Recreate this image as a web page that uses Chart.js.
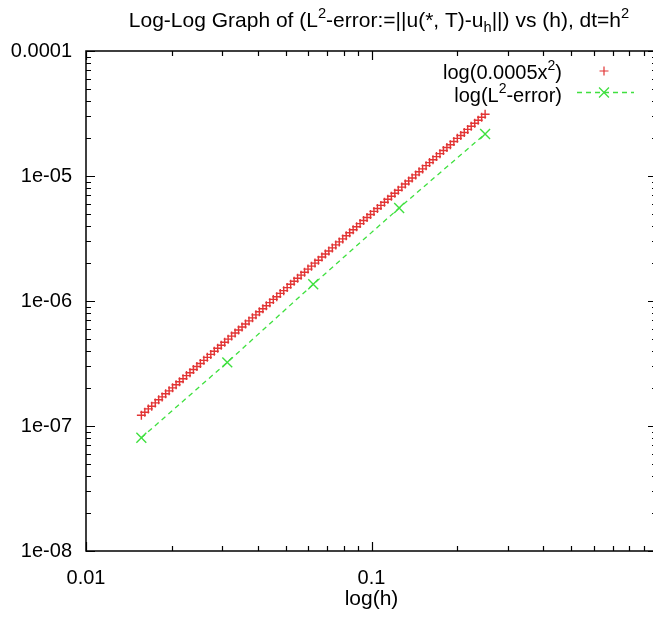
<!DOCTYPE html>
<html lang="en">
<head>
<meta charset="UTF-8">
<title>Log-Log Graph of L2-error vs h</title>
<style>
    html, body {
        margin: 0;
        padding: 0;
        background: #fff;
        overflow: hidden;
    }
    .frame {
        width: 653px;
        height: 617px;
        overflow: hidden;
        position: relative;
    }
    canvas {
        display: block;
    }
</style>
<script src="https://cdn.jsdelivr.net/npm/chart.js@4"></script>
</head>
<body>
<div class="frame">
    <canvas id="chart" width="680" height="617"></canvas>
</div>
<script>
    // mesh sizes sampled for the reference curve 0.0005 h^2
    const hFine = [
        0.01563, 0.01607, 0.01653, 0.01699, 0.01748, 0.01797, 0.01848, 0.01901, 0.01955, 0.02010,
        0.02068, 0.02126, 0.02187, 0.02249, 0.02313, 0.02378, 0.02446, 0.02515, 0.02587, 0.02660,
        0.02736, 0.02814, 0.02893, 0.02976, 0.03060, 0.03147, 0.03236, 0.03328, 0.03423, 0.03520,
        0.03620, 0.03723, 0.03829, 0.03937, 0.04049, 0.04164, 0.04282, 0.04404, 0.04529, 0.04658,
        0.04790, 0.04926, 0.05066, 0.05210, 0.05358, 0.05510, 0.05667, 0.05828, 0.05993, 0.06163,
        0.06338, 0.06518, 0.06703, 0.06894, 0.07089, 0.07291, 0.07498, 0.07711, 0.07930, 0.08155,
        0.08387, 0.08625, 0.08870, 0.09122, 0.09381, 0.09647, 0.09921, 0.1020, 0.1049, 0.1079,
        0.1110, 0.1141, 0.1174, 0.1207, 0.1241, 0.1277, 0.1313, 0.1350, 0.1388, 0.1428,
        0.1468, 0.1510, 0.1553, 0.1597, 0.1642, 0.1689, 0.1737, 0.1786, 0.1837, 0.1889,
        0.1943, 0.1998, 0.2055, 0.2113, 0.2173, 0.2235, 0.2299, 0.2364, 0.2431, 0.2500
    ];
    const fitValues = [
        1.22e-7, 1.29e-7, 1.37e-7, 1.44e-7, 1.53e-7, 1.62e-7, 1.71e-7, 1.81e-7, 1.91e-7, 2.02e-7,
        2.14e-7, 2.26e-7, 2.39e-7, 2.53e-7, 2.67e-7, 2.83e-7, 2.99e-7, 3.16e-7, 3.35e-7, 3.54e-7,
        3.74e-7, 3.96e-7, 4.19e-7, 4.43e-7, 4.68e-7, 4.95e-7, 5.24e-7, 5.54e-7, 5.86e-7, 6.20e-7,
        6.55e-7, 6.93e-7, 7.33e-7, 7.75e-7, 8.20e-7, 8.67e-7, 9.17e-7, 9.70e-7, 1.03e-6, 1.08e-6,
        1.15e-6, 1.21e-6, 1.28e-6, 1.36e-6, 1.44e-6, 1.52e-6, 1.61e-6, 1.70e-6, 1.80e-6, 1.90e-6,
        2.01e-6, 2.12e-6, 2.25e-6, 2.38e-6, 2.51e-6, 2.66e-6, 2.81e-6, 2.97e-6, 3.14e-6, 3.33e-6,
        3.52e-6, 3.72e-6, 3.93e-6, 4.16e-6, 4.40e-6, 4.65e-6, 4.92e-6, 5.21e-6, 5.50e-6, 5.82e-6,
        6.16e-6, 6.51e-6, 6.89e-6, 7.28e-6, 7.70e-6, 8.15e-6, 8.62e-6, 9.11e-6, 9.64e-6, 1.02e-5,
        1.08e-5, 1.14e-5, 1.21e-5, 1.28e-5, 1.35e-5, 1.43e-5, 1.51e-5, 1.60e-5, 1.69e-5, 1.78e-5,
        1.89e-5, 2.00e-5, 2.11e-5, 2.23e-5, 2.36e-5, 2.50e-5, 2.64e-5, 2.79e-5, 2.95e-5, 3.12e-5
    ];

    // computed runs
    const hSteps = [0.015625, 0.03125, 0.0625, 0.125, 0.25];
    const errValues = [8.05e-8, 3.23e-7, 1.36e-6, 5.55e-6, 2.17e-5];

    const xTickVals = [0.01, 0.1];
    const xTickLabels = ['0.01', '0.1'];
    const yTickVals = [1e-8, 1e-7, 1e-6, 1e-5, 1e-4];
    const yTickLabels = ['1e-08', '1e-07', '1e-06', '1e-05', '0.0001'];

    const titleParts = [
        {t: 'Log-Log Graph of (L'}, {t: '2', s: 'sup'}, {t: '-error:=||u(*, T)-u'},
        {t: 'h', s: 'sub'}, {t: '||) vs (h), dt=h'}, {t: '2', s: 'sup'}
    ];
    const fitLabel = [{t: 'log(0.0005x'}, {t: '2', s: 'sup'}, {t: ')'}];
    const errLabel = [{t: 'log(L'}, {t: '2', s: 'sup'}, {t: '-error)'}];

    const FONT = '"Liberation Sans", Arial, Helvetica, sans-serif';
    const RED = '#e23434';
    const GREEN = '#3fe03f';

    // text with small raised / lowered pieces, like gnuplot enhanced text
    function drawRich(ctx, parts, x, y, size, align) {
        let w = 0;
        parts.forEach(p => {
            ctx.font = (p.s ? size * 0.7 : size) + 'px ' + FONT;
            w += ctx.measureText(p.t).width;
        });
        let cx = align === 'center' ? x - w / 2 : (align === 'right' ? x - w : x);
        ctx.textAlign = 'left';
        ctx.textBaseline = 'alphabetic';
        ctx.fillStyle = '#000';
        parts.forEach(p => {
            ctx.font = (p.s ? size * 0.7 : size) + 'px ' + FONT;
            let dy = 0;
            if (p.s === 'sup') dy = -size * 0.45;
            if (p.s === 'sub') dy = size * 0.25;
            ctx.fillText(p.t, cx, y + dy);
            cx += ctx.measureText(p.t).width;
        });
    }

    function logTicks(min, max) {
        const out = [];
        for (let d = Math.round(Math.log10(min)); d < Math.round(Math.log10(max)); d++) {
            for (let m = 1; m <= 9; m++) {
                out.push([m * Math.pow(10, d), m === 1]);
            }
        }
        out.push([max, true]);
        return out;
    }

    // border, inward ticks, title and key drawn the gnuplot way
    const gnuplotFrame = {
        id: 'gnuplotFrame',
        afterDraw(chart) {
            const ctx = chart.ctx;
            const a = chart.chartArea;
            const sx = chart.scales.x;
            const sy = chart.scales.y;
            ctx.save();
            ctx.strokeStyle = '#000';
            ctx.lineWidth = 1.5;
            ctx.strokeRect(a.left, a.top, a.right - a.left, a.bottom - a.top);

            ctx.lineWidth = 1.2;
            ctx.beginPath();
            logTicks(sx.min, sx.max).forEach(([v, major]) => {
                const px = Math.round(sx.getPixelForValue(v)) + 0.5;
                const len = major ? 9 : 5;
                ctx.moveTo(px, a.bottom); ctx.lineTo(px, a.bottom - len);
                ctx.moveTo(px, a.top); ctx.lineTo(px, a.top + len);
            });
            logTicks(sy.min, sy.max).forEach(([v, major]) => {
                const py = Math.round(sy.getPixelForValue(v)) + 0.5;
                const len = major ? 9 : 5;
                ctx.moveTo(a.left, py); ctx.lineTo(a.left + len, py);
                ctx.moveTo(a.right, py); ctx.lineTo(a.right - len, py);
            });
            ctx.stroke();

            drawRich(ctx, titleParts, 379, 27, 21, 'center');

            // key
            drawRich(ctx, fitLabel, 562, 79, 20, 'right');
            drawRich(ctx, errLabel, 562, 102, 20, 'right');
            const ds = chart.data.datasets;
            ctx.strokeStyle = RED;
            Chart.helpers.drawPoint(ctx, {
                pointStyle: ds[0].pointStyle, radius: ds[0].pointRadius,
                rotation: 0, borderWidth: ds[0].pointBorderWidth
            }, 604, 71);
            ctx.strokeStyle = GREEN;
            ctx.lineWidth = ds[1].borderWidth;
            ctx.setLineDash(ds[1].borderDash);
            ctx.beginPath();
            ctx.moveTo(577, 92.5); ctx.lineTo(634, 92.5);
            ctx.stroke();
            ctx.setLineDash([]);
            Chart.helpers.drawPoint(ctx, {
                pointStyle: ds[1].pointStyle, radius: ds[1].pointRadius,
                rotation: 0, borderWidth: ds[1].pointBorderWidth
            }, 604, 92.5);
            ctx.restore();
        }
    };

    new Chart(document.getElementById('chart'), {
        type: 'scatter',
        data: {
            datasets: [
                {
                    label: 'log(0.0005x²)',
                    data: hFine.map((h, i) => ({x: h, y: fitValues[i]})),
                    showLine: false,
                    pointStyle: 'cross',
                    pointRadius: 4.5,
                    pointBorderWidth: 1.4,
                    borderColor: RED,
                    backgroundColor: RED
                },
                {
                    label: 'log(L²-error)',
                    data: hSteps.map((h, i) => ({x: h, y: errValues[i]})),
                    showLine: true,
                    borderDash: [5, 4],
                    borderWidth: 1.3,
                    pointStyle: 'crossRot',
                    pointRadius: 7,
                    pointBorderWidth: 1.4,
                    borderColor: GREEN,
                    backgroundColor: GREEN
                }
            ]
        },
        options: {
            responsive: false,
            animation: false,
            layout: { padding: { top: 51, right: 23, bottom: 0, left: 0 } },
            plugins: {
                legend: { display: false },
                title: { display: false },
                tooltip: { enabled: false }
            },
            scales: {
                x: {
                    type: 'logarithmic',
                    min: 0.01,
                    max: 1,
                    grid: { display: false, drawTicks: false },
                    border: { display: false },
                    afterBuildTicks: s => { s.ticks = xTickVals.map(v => ({value: v})); },
                    afterFit: s => { s.height = 66; },
                    ticks: {
                        autoSkip: false,
                        maxRotation: 0,
                        padding: 15,
                        color: '#000',
                        font: { family: FONT, size: 20 },
                        callback: (v, i) => xTickLabels[i]
                    },
                    title: {
                        display: true,
                        text: 'log(h)',
                        color: '#000',
                        font: { family: FONT, size: 21 },
                        padding: { top: 0, bottom: 5 }
                    }
                },
                y: {
                    type: 'logarithmic',
                    min: 1e-8,
                    max: 1e-4,
                    grid: { display: false, drawTicks: false },
                    border: { display: false },
                    afterBuildTicks: s => { s.ticks = yTickVals.map(v => ({value: v})); },
                    afterFit: s => { s.width = 86; },
                    ticks: {
                        autoSkip: false,
                        padding: 14,
                        color: '#000',
                        font: { family: FONT, size: 20 },
                        callback: (v, i) => yTickLabels[i]
                    }
                }
            }
        },
        plugins: [gnuplotFrame]
    });
</script>
</body>
</html>
